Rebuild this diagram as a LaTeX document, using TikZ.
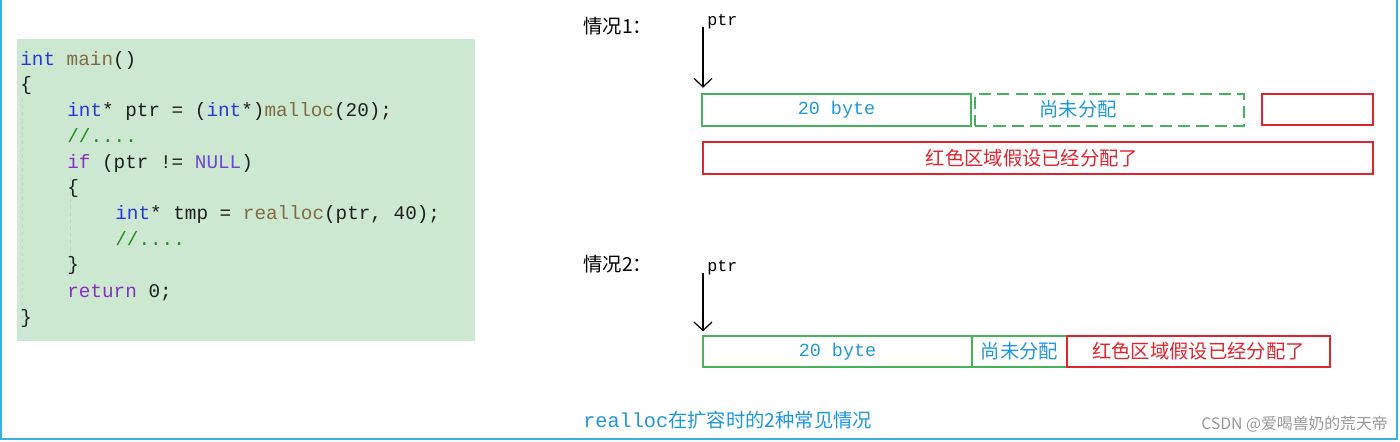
\documentclass[tikz,border=0pt]{standalone}
\usepackage{fontspec}
\usetikzlibrary{arrows.meta}
\newfontfamily\cjk{Noto Sans CJK SC}
\newfontfamily\mono{Liberation Mono}
\newfontfamily\wmfont{Noto Sans CJK SC}
\definecolor{codebg}{RGB}{205,232,208}
\definecolor{kwblue}{RGB}{40,55,215}
\definecolor{fnbrown}{RGB}{128,108,66}
\definecolor{cmgreen}{RGB}{30,140,30}
\definecolor{kwpurple}{RGB}{140,45,195}
\definecolor{nullpurple}{RGB}{110,70,210}
\definecolor{codeblack}{RGB}{30,30,30}
\definecolor{boxgreen}{RGB}{70,178,90}
\definecolor{boxred}{RGB}{225,35,45}
\definecolor{textblue}{RGB}{30,150,220}
\definecolor{framecol}{RGB}{58,176,226}
\definecolor{guidecol}{RGB}{185,212,188}
\definecolor{wmgray}{RGB}{150,150,150}
\newcommand{\kw}[1]{\textcolor{kwblue}{#1}}
\newcommand{\fn}[1]{\textcolor{fnbrown}{#1}}
\newcommand{\cm}[1]{\textcolor{cmgreen}{#1}}
\newcommand{\pu}[1]{\textcolor{kwpurple}{#1}}
\newcommand{\pn}[1]{\textcolor{nullpurple}{#1}}
\begin{document}
\begin{tikzpicture}[x=0.02cm,y=-0.02cm,
  codebox/.style={fill=codebg, draw=none, inner sep=0pt},
  codeline/.style={anchor=base west, inner sep=0pt, text=codeblack, font=\mono\fontsize{11}{13}\selectfont},
  guide/.style={draw=guidecol, line width=0.5pt, dash pattern=on 2pt off 2pt},
  gbox/.style={draw=boxgreen, line width=1pt, inner sep=0pt, text=textblue, font=\mono\fontsize{10.5}{12}\selectfont, minimum height=0.63cm},
  gdash/.style={gbox, dash pattern=on 7pt off 3.5pt},
  rbox/.style={draw=boxred, line width=0.9pt, inner sep=0pt, text=boxred, font=\cjk\fontsize{11}{13}\selectfont, minimum height=0.63cm},
  cjkblue/.style={inner sep=0pt, text=textblue, font=\cjk\fontsize{11}{13}\selectfont},
  heading/.style={anchor=west, inner sep=0pt, text=black, font=\cjk\fontsize{11}{13}\selectfont},
  ptrlabel/.style={anchor=west, inner sep=0pt, text=black, font=\mono\fontsize{9.5}{11}\selectfont},
  parrow/.style={-{Straight Barb[length=1.7mm,width=3.6mm]}, line width=0.7pt, black},
  frame/.style={draw=framecol, line width=1.4pt}
]
\useasboundingbox (0,0) rectangle (1400,442);
% outer frame (open at top)
\draw[frame] (1,0) -- (1,439) -- (1397,439) -- (1397,0);

% code box
\node[codebox, minimum width=9.16cm, minimum height=6.04cm] (code) at (246,190) {};
\draw[guide] (22,98) -- (22,328);
\draw[guide] (70,177) -- (70,272);
\node[codeline] (c1) at (20,66) {\kw{int} \fn{main}()};
\node[codeline] (c2) at (20,91) {\{};
\node[codeline] (c3) at (67,117) {\kw{int}* ptr = (\kw{int}*)\fn{malloc}(20);};
\node[codeline] (c4) at (67,143) {\cm{//....}};
\node[codeline] (c5) at (67,169) {\pu{if} (ptr != \pn{NULL})};
\node[codeline] (c6) at (67,194) {\{};
\node[codeline] (c7) at (115,220) {\kw{int}* tmp = \fn{realloc}(ptr, 40);};
\node[codeline] (c8) at (115,246) {\cm{//....}};
\node[codeline] (c9) at (67,271) {\}};
\node[codeline] (c10) at (67,297) {\pu{return} 0;};
\node[codeline] (c11) at (20,323) {\}};

% case 1
\node[heading] (h1) at (583,26) {情况1：};
\node[ptrlabel] (p1) at (707,22) {ptr};
\coordinate (a1s) at (703,27);
\node[gbox, minimum width=5.38cm] (g1) at (836.5,110) {20 byte};
\node[gdash, minimum width=5.38cm] (d1) at (1109.5,110) {};
\node[cjkblue] (t1) at (1078,109) {尚未分配};
\node[rbox, minimum width=2.22cm] (r1) at (1317.5,109.5) {};
\node[rbox, minimum width=13.4cm] (R1) at (1038,158) {};
\node[inner sep=0pt, text=boxred, font=\cjk\fontsize{11}{13}\selectfont] (rt1) at (1032,158) {红色区域假设已经分配了};
\draw[parrow, shorten >=3.2pt] (a1s) -- (a1s |- g1.north);

% case 2
\node[heading] (h2) at (583,264) {情况2：};
\node[ptrlabel] (p2) at (707,268) {ptr};
\coordinate (a2s) at (703,273);
\node[gbox, minimum width=5.38cm] (g2) at (837.5,351.5) {20 byte};
\node[gbox, minimum width=1.9cm, font=\cjk\fontsize{11}{13}\selectfont] (u2) at (1019.5,351.5) {尚未分配};
\node[rbox, minimum width=5.26cm] (R2) at (1198.5,351.5) {红色区域假设已经分配了};
\draw[parrow, shorten >=2pt] (a2s) -- (a2s |- g2.north);

% caption and watermark
\node[anchor=west, inner sep=0pt, text=textblue] (cap) at (583,420)
  {{\mono\fontsize{11.5}{13}\selectfont realloc}{\cjk\fontsize{11}{13}\selectfont 在扩容时的2种常见情况}};
\node[anchor=east, inner sep=0pt, text=wmgray, font=\wmfont\fontsize{9}{11}\selectfont] (wm) at (1388,424) {CSDN @爱喝兽奶的荒天帝};
\end{tikzpicture}
\end{document}
